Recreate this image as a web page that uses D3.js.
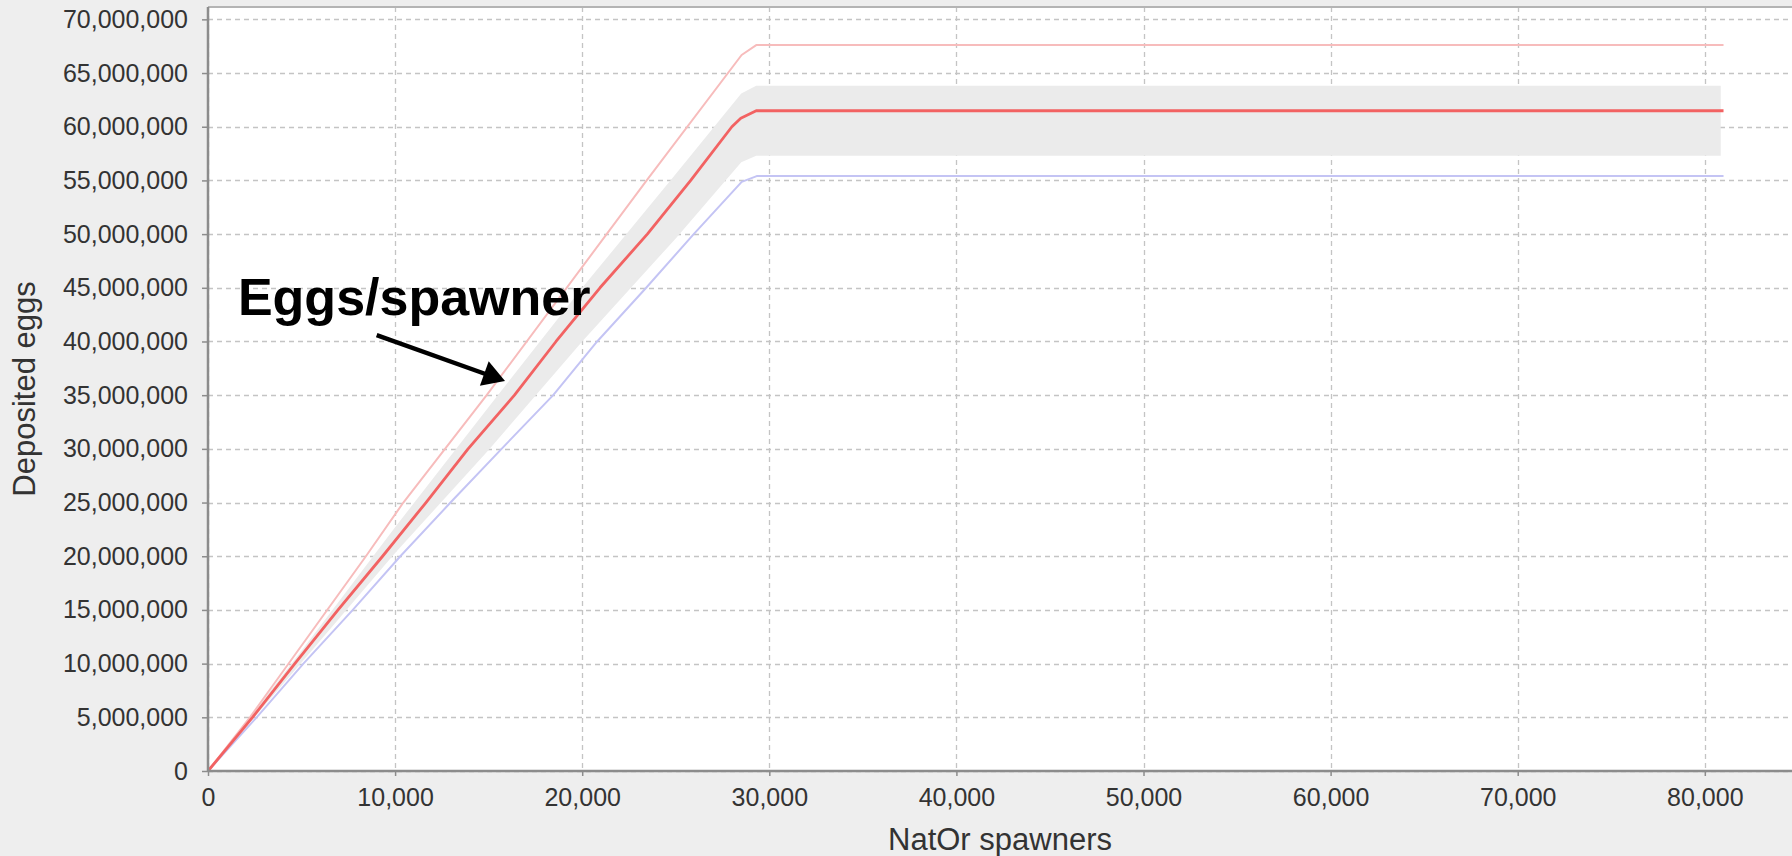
<!DOCTYPE html>
<html><head><meta charset="utf-8">
<script src="https://cdn.jsdelivr.net/npm/d3@7"></script>
<style>html,body{margin:0;padding:0;background:#eeeeee;overflow:hidden}svg{display:block}</style>
</head><body>
<svg id="chart" width="1792" height="856"></svg>
<script>
// ---- data (spawners, eggs in millions) ----
const xTicks = [0, 10000, 20000, 30000, 40000, 50000, 60000, 70000, 80000];
const yTicks = [0, 5e6, 10e6, 15e6, 20e6, 25e6, 30e6, 35e6, 40e6, 45e6, 50e6, 55e6, 60e6, 65e6, 70e6];

const redX  = [0, 2380, 4640, 6950, 9330, 11650, 13900, 16380, 18600, 20950, 23480, 25800, 28000, 28475, 29300, 81000];
const redY  = [0, 5.0, 10.0, 15.0, 20.0, 25.0, 30.0, 35.0, 40.0, 45.0, 50.0, 55.0, 60.0, 60.78, 61.49, 61.49];

const pinkX = [0, 2240, 8440, 10440, 14895, 23446, 28520, 29300, 81000];
const pinkY = [0, 5.0, 20.0, 25.0, 35.0, 55.0, 66.68, 67.6, 67.6];

const blueX = [0, 2600, 5100, 7740, 10280, 12960, 15690, 18450, 20800, 23420, 25960, 28524, 29326, 81000];
const blueY = [0, 5.0, 10.0, 15.0, 20.0, 25.0, 30.0, 35.0, 40.0, 45.0, 50.0, 54.87, 55.4, 55.4];

const bandX    = [0, 5000, 10000, 15000, 20000, 25000, 28500, 29300, 80850];
const bandLow  = [0, 10.1, 20.3, 29.9, 40.0, 49.6, 56.7, 57.3, 57.3];
const bandHigh = [0, 11.2, 22.7, 33.9, 45.0, 55.6, 63.1, 63.82, 63.82];

const annotationText = "Eggs/spawner";
const annotationAt = [1600, 42.47];    // text anchor (spawners, M eggs)
const arrowFrom = [9016, 40.6];
const arrowTo   = [15874, 36.32];

const xLabel = "NatOr spawners";
const yLabel = "Deposited eggs";

// ---- layout ----
const W = 1792, H = 856;
const plot = {left: 208, right: 1792, top: 7, bottom: 771};
const svg = d3.select("#chart");
const FONT = "'Liberation Sans', Arial, sans-serif";

const x = d3.scaleLinear().domain([0, 84660]).range([plot.left, plot.right]);
const y = d3.scaleLinear().domain([0, 71.15e6]).range([plot.bottom, plot.top]);

svg.append("rect").attr("width", W).attr("height", H).attr("fill", "#eeeeee");
svg.append("rect").attr("x", plot.left).attr("y", plot.top)
  .attr("width", plot.right - plot.left).attr("height", plot.bottom - plot.top).attr("fill", "#ffffff");

// grid
const grid = svg.append("g");
grid.selectAll("line.h").data(yTicks).join("line")
  .attr("x1", plot.left).attr("x2", plot.right)
  .attr("y1", d => Math.round(y(d)) + 0.5).attr("y2", d => Math.round(y(d)) + 0.5)
  .attr("stroke", "#c4c4c4").attr("stroke-width", 1.3).attr("stroke-dasharray", "5,4");
grid.selectAll("line.v").data(xTicks).join("line")
  .attr("y1", plot.top).attr("y2", plot.bottom)
  .attr("x1", d => Math.round(x(d)) + 0.5).attr("x2", d => Math.round(x(d)) + 0.5)
  .attr("stroke", "#c4c4c4").attr("stroke-width", 1.3).attr("stroke-dasharray", "5,4");

// band
const bandData = bandX.map((v, i) => ({x: v, lo: bandLow[i] * 1e6, hi: bandHigh[i] * 1e6}));
svg.append("path").datum(bandData)
  .attr("d", d3.area().x(d => x(d.x)).y0(d => y(d.lo)).y1(d => y(d.hi)))
  .attr("fill", "#ebebeb");

const line = d3.line().x(d => x(d[0])).y(d => y(d[1] * 1e6));
function series(xs, ys, color, w) {
  svg.append("path").datum(xs.map((v, i) => [v, ys[i]]))
    .attr("d", line).attr("fill", "none").attr("stroke", color)
    .attr("stroke-width", w).attr("stroke-linejoin", "round");
}
series(pinkX, pinkY, "#f7bcbc", 2);
series(blueX, blueY, "#c4c4f4", 2);
series(redX, redY, "#f26262", 2.8);

// top border
svg.append("line").attr("x1", plot.left).attr("x2", plot.right)
  .attr("y1", plot.top).attr("y2", plot.top).attr("stroke", "#b4b4b4").attr("stroke-width", 2);

// axes
const yAxis = d3.axisLeft(y).tickValues(yTicks).tickFormat(d3.format(",")).tickSize(6).tickPadding(14);
const xAxis = d3.axisBottom(x).tickValues(xTicks).tickFormat(d3.format(",")).tickSize(5).tickPadding(12);
const gy = svg.append("g").attr("transform", `translate(${plot.left},0)`).call(yAxis);
const gx = svg.append("g").attr("transform", `translate(0,${plot.bottom})`).call(xAxis);
[gx, gy].forEach(g => {
  g.select(".domain").attr("stroke", "#8c8c8c").attr("stroke-width", 2.5);
  g.selectAll(".tick line").attr("stroke", "#8c8c8c").attr("stroke-width", 1.5);
  g.selectAll(".tick text").attr("fill", "#333").style("font-family", FONT).style("font-size", "25px");
});
gy.select(".domain").attr("d", `M0,${plot.top}V${plot.bottom}`);
gx.select(".domain").attr("d", `M${plot.left},0H${plot.right}`);

// axis labels
svg.append("text").attr("x", (plot.left + plot.right) / 2).attr("y", 850)
  .attr("text-anchor", "middle").attr("fill", "#333")
  .style("font-family", FONT).style("font-size", "31px").text(xLabel);
svg.append("text").attr("transform", `translate(35,${(plot.top + plot.bottom) / 2}) rotate(-90)`)
  .attr("text-anchor", "middle").attr("fill", "#333")
  .style("font-family", FONT).style("font-size", "31px").text(yLabel);

// annotation
svg.append("text").attr("x", x(annotationAt[0])).attr("y", y(annotationAt[1] * 1e6))
  .attr("fill", "#000").style("font-family", FONT).style("font-weight", "bold")
  .style("font-size", "52px").text(annotationText);

const ax0 = x(arrowFrom[0]), ay0 = y(arrowFrom[1] * 1e6);
const ax1 = x(arrowTo[0]), ay1 = y(arrowTo[1] * 1e6);
const ang = Math.atan2(ay1 - ay0, ax1 - ax0);
const headLen = 22, headHalf = 13;
const bx = ax1 - headLen * Math.cos(ang), by = ay1 - headLen * Math.sin(ang);
svg.append("line").attr("x1", ax0).attr("y1", ay0).attr("x2", bx + 2 * Math.cos(ang)).attr("y2", by + 2 * Math.sin(ang))
  .attr("stroke", "#000").attr("stroke-width", 4.5);
const px = -Math.sin(ang), py = Math.cos(ang);
svg.append("path")
  .attr("d", `M${ax1},${ay1}L${bx + headHalf * px},${by + headHalf * py}L${bx - headHalf * px},${by - headHalf * py}Z`)
  .attr("fill", "#000");
</script>
</body></html>
